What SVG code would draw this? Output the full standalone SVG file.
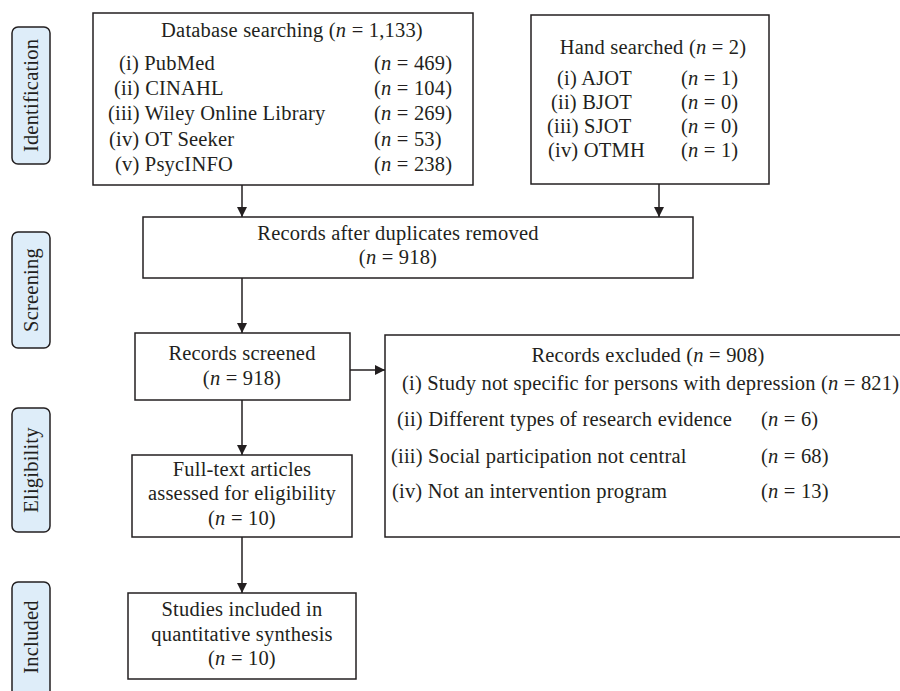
<svg xmlns="http://www.w3.org/2000/svg" width="900" height="691" viewBox="0 0 900 691">
<defs>
<style>
text{font-family:"Liberation Serif","Times New Roman",serif;font-size:20.5px;letter-spacing:0.2px;fill:#231f20}
.box{fill:#fff;stroke:#231f20;stroke-width:1.5}
.phase{fill:#deedf9;stroke:#231f20;stroke-width:1.5}
.c{text-anchor:middle}
.line{stroke:#231f20;stroke-width:1.5;fill:none}
tspan.i{font-style:italic}
</style>
<marker id="ah" viewBox="0 0 10 10" refX="10" refY="5" markerWidth="10" markerHeight="10" markerUnits="userSpaceOnUse" orient="auto">
<path d="M0,0 L10,5 L0,10 z" fill="#231f20"/>
</marker>
</defs>
<rect width="900" height="691" fill="#fff"/>
<g id="phases">
<g id="phase-identification"><rect class="phase" x="12" y="27" width="38" height="137" rx="6"/><text class="c" transform="translate(38,95.5) rotate(-90)">Identification</text></g>
<g id="phase-screening"><rect class="phase" x="12" y="232" width="38" height="116" rx="6"/><text class="c" transform="translate(38,290) rotate(-90)">Screening</text></g>
<g id="phase-eligibility"><rect class="phase" x="12" y="408" width="38" height="124" rx="6"/><text class="c" transform="translate(38,470) rotate(-90)">Eligibility</text></g>
<g id="phase-included"><rect class="phase" x="12" y="582" width="38" height="120" rx="6"/><text class="c" transform="translate(38,637) rotate(-90)">Included</text></g>
</g>
<g id="connectors">
<line class="line" x1="242" y1="185" x2="242" y2="217" marker-end="url(#ah)"/>
<line class="line" x1="659" y1="184" x2="659" y2="217" marker-end="url(#ah)"/>
<line class="line" x1="242" y1="278" x2="242" y2="333" marker-end="url(#ah)"/>
<line class="line" x1="350" y1="370" x2="385" y2="370" marker-end="url(#ah)"/>
<line class="line" x1="242" y1="400" x2="242" y2="455" marker-end="url(#ah)"/>
<line class="line" x1="242" y1="537" x2="242" y2="593" marker-end="url(#ah)"/>
</g>
<g id="database">
<rect class="box" x="93" y="13" width="380" height="172"/>
<text class="c" x="292" y="37">Database searching (<tspan class="i">n</tspan> = 1,133)</text>
<text x="119" y="70">(i) PubMed</text><text x="374" y="70">(<tspan class="i">n</tspan> = 469)</text>
<text x="114" y="95">(ii) CINAHL</text><text x="374" y="95">(<tspan class="i">n</tspan> = 104)</text>
<text x="108" y="120">(iii) Wiley Online Library</text><text x="374" y="120">(<tspan class="i">n</tspan> = 269)</text>
<text x="109" y="146">(iv) OT Seeker</text><text x="374" y="146">(<tspan class="i">n</tspan> = 53)</text>
<text x="115" y="171">(v) PsycINFO</text><text x="374" y="171">(<tspan class="i">n</tspan> = 238)</text>
</g>
<g id="hand">
<rect class="box" x="531" y="15" width="238" height="169"/>
<text class="c" x="653" y="54">Hand searched (<tspan class="i">n</tspan> = 2)</text>
<text x="557" y="85">(i) AJOT</text><text x="681" y="85">(<tspan class="i">n</tspan> = 1)</text>
<text x="551" y="109">(ii) BJOT</text><text x="681" y="109">(<tspan class="i">n</tspan> = 0)</text>
<text x="547" y="133">(iii) SJOT</text><text x="681" y="133">(<tspan class="i">n</tspan> = 0)</text>
<text x="548" y="157">(iv) OTMH</text><text x="681" y="157">(<tspan class="i">n</tspan> = 1)</text>
</g>
<g id="duplicates">
<rect class="box" x="143" y="217" width="550" height="61"/>
<text class="c" x="398" y="240">Records after duplicates removed</text>
<text class="c" x="398" y="264">(<tspan class="i">n</tspan> = 918)</text>
</g>
<g id="screened">
<rect class="box" x="135" y="333" width="215" height="67"/>
<text class="c" x="242" y="360">Records screened</text>
<text class="c" x="242" y="385">(<tspan class="i">n</tspan> = 918)</text>
</g>
<g id="excluded">
<rect class="box" x="385" y="335" width="530" height="202"/>
<text class="c" x="648" y="362">Records excluded (<tspan class="i">n</tspan> = 908)</text>
<text x="402" y="390">(i) Study not specific for persons with depression (<tspan class="i">n</tspan> = 821)</text>
<text x="397" y="426">(ii) Different types of research evidence</text><text x="761" y="426">(<tspan class="i">n</tspan> = 6)</text>
<text x="391" y="463">(iii) Social participation not central</text><text x="761" y="463">(<tspan class="i">n</tspan> = 68)</text>
<text x="392" y="498">(iv) Not an intervention program</text><text x="761" y="498">(<tspan class="i">n</tspan> = 13)</text>
</g>
<g id="fulltext">
<rect class="box" x="132" y="455" width="220" height="82"/>
<text class="c" x="242" y="476">Full-text articles</text>
<text class="c" x="242" y="500">assessed for eligibility</text>
<text class="c" x="242" y="525">(<tspan class="i">n</tspan> = 10)</text>
</g>
<g id="included">
<rect class="box" x="128" y="593" width="228" height="86"/>
<text class="c" x="242" y="616">Studies included in</text>
<text class="c" x="242" y="641">quantitative synthesis</text>
<text class="c" x="242" y="665">(<tspan class="i">n</tspan> = 10)</text>
</g>
</svg>
